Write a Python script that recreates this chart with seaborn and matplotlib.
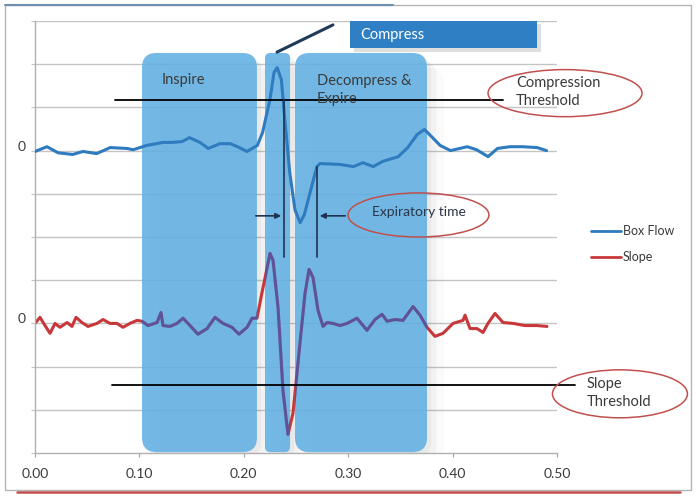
import numpy as np
import pandas as pd
import matplotlib.pyplot as plt
import seaborn as sns
from matplotlib.patches import FancyBboxPatch, Rectangle, Ellipse
from matplotlib.lines import Line2D

# Box flow trace (time in s, value in grid units around its own zero)
flow_t = [0.000, 0.0115, 0.022, 0.036, 0.046, 0.059, 0.072, 0.088, 0.094, 0.107,
          0.123, 0.132, 0.141, 0.148, 0.158, 0.166, 0.177, 0.187, 0.194, 0.203,
          0.213, 0.218, 0.225, 0.229, 0.232, 0.236, 0.239, 0.244, 0.249, 0.254,
          0.258, 0.265, 0.270, 0.273, 0.292, 0.305, 0.314, 0.324, 0.333, 0.348,
          0.357, 0.366, 0.373, 0.380, 0.388, 0.398, 0.414, 0.423, 0.434, 0.443,
          0.455, 0.467, 0.481, 0.490]
flow_v = [-0.02, 0.09, -0.05, -0.09, -0.02, -0.07, 0.07, 0.05, 0.02, 0.12,
          0.19, 0.19, 0.21, 0.30, 0.19, 0.05, 0.16, 0.16, 0.09, -0.02,
          0.12, 0.42, 1.18, 1.81, 1.92, 1.64, 0.79, -0.51, -1.37, -1.67,
          -1.48, -0.83, -0.37, -0.30, -0.32, -0.37, -0.28, -0.37, -0.25, -0.14,
          0.07, 0.37, 0.49, 0.32, 0.12, 0.00, 0.09, 0.02, -0.14, 0.05,
          0.09, 0.09, 0.07, 0.00]

# Slope trace
slope_t = [0.000, 0.0048, 0.0096, 0.0144, 0.0192, 0.0239, 0.0307, 0.0354, 0.0393, 0.0450,
           0.0508, 0.0594, 0.0651, 0.0718, 0.0785, 0.0843, 0.0910, 0.0977, 0.1025, 0.1082,
           0.1169, 0.1207, 0.1226, 0.1293, 0.1360, 0.1418, 0.1485, 0.1561, 0.1648, 0.1724,
           0.1801, 0.1887, 0.1954, 0.2031, 0.2079, 0.2126, 0.2184, 0.2251, 0.2280, 0.2328,
           0.2375, 0.2423, 0.2471, 0.2538, 0.2586, 0.2625, 0.2663, 0.2711, 0.2759, 0.2797,
           0.2854, 0.2921, 0.2989, 0.3084, 0.3180, 0.3257, 0.3324, 0.3372, 0.3448, 0.3525,
           0.3621, 0.3688, 0.3755, 0.3831, 0.3908, 0.4004, 0.4100, 0.4119, 0.4167, 0.4234,
           0.4291, 0.4339, 0.4406, 0.4483, 0.4579, 0.4693, 0.4808, 0.4904]
slope_v = [0.00, 0.14, -0.05, -0.23, 0.00, -0.09, 0.02, -0.07, 0.14, 0.02,
           -0.07, 0.00, 0.09, 0.00, 0.00, -0.09, 0.00, 0.07, 0.05, -0.05,
           0.02, 0.25, -0.05, -0.07, 0.00, 0.12, -0.05, -0.25, -0.12, 0.14,
           0.00, -0.09, -0.25, -0.09, 0.12, 0.12, 0.83, 1.62, 1.46, 0.37,
           -1.55, -2.57, -2.08, -0.46, 0.69, 1.25, 1.06, 0.30, -0.07, 0.02,
           0.00, -0.05, 0.00, 0.12, -0.16, 0.09, 0.21, 0.05, 0.09, 0.07,
           0.39, 0.19, -0.09, -0.30, -0.23, 0.00, 0.07, 0.19, -0.12, -0.12,
           -0.21, 0.00, 0.23, 0.02, 0.00, -0.05, -0.05, -0.07]

flow_zero = 7
slope_zero = 3
x_ticks = [0.0, 0.1, 0.2, 0.3, 0.4, 0.5]
x_ticklabels = ['0.00', '0.10', '0.20', '0.30', '0.40', '0.50']

# phase boxes (start, end) in seconds
phases = [(0.1025, 0.2126), (0.2203, 0.2443), (0.2490, 0.3755)]
phase_round = [0.0140, 0.0050, 0.0140]
compress_thr = 8.17
slope_thr = 1.57
exp_start, exp_end = 0.2385, 0.2701

flow_df = pd.DataFrame({'t': flow_t, 'v': np.array(flow_v) + flow_zero})
slope_df = pd.DataFrame({'t': slope_t, 'v': np.array(slope_v) + slope_zero})

sns.set_style('white')
plt.rcParams['font.family'] = ['Lato', 'DejaVu Sans']

FLOW_C = '#2f7bbf'
SLOPE_C = '#c8383a'
BOX_C = '#62b0e3'
TXT_C = '#3a3a3a'
NAVY = '#1f3350'
LW = 2.2

fig = plt.figure(figsize=(6.97, 4.97), dpi=100)
ax = fig.add_axes([35 / 697, 44 / 497, 522 / 697, 432 / 497])
ax.set_xlim(0, 0.5)
ax.set_ylim(0, 10)

# gridlines
for g in range(1, 11):
    ax.axhline(g, color='#c4c4c4', lw=1, zorder=0.5)

# aspect of one x unit vs one y unit in pixels
asp = (1 / 43.2) / (1 / 1044)

# soft shadows
for k, (a, b) in enumerate(phases):
    for off, al in [(0.004, 0.08), (0.009, 0.06), (0.016, 0.04)]:
        sh = FancyBboxPatch((a + off, 0.02 - off * asp * 0.9), b - a, 9.24,
                            boxstyle=f'round,pad=0,rounding_size={phase_round[k]}',
                            mutation_aspect=asp, fc='#808080', ec='none', alpha=al, zorder=1)
        ax.add_patch(sh)

sns.lineplot(data=slope_df, x='t', y='v', ax=ax, color=SLOPE_C, lw=LW,
             estimator=None, sort=False, legend=False, zorder=2,
             solid_joinstyle='round', solid_capstyle='round')

boxes = []
for k, (a, b) in enumerate(phases):
    p = FancyBboxPatch((a, 0.02), b - a, 9.24,
                       boxstyle=f'round,pad=0,rounding_size={phase_round[k]}',
                       mutation_aspect=asp, fc=BOX_C, ec='none', alpha=0.88, zorder=3)
    ax.add_patch(p)
    boxes.append(p)

# slope seen through the boxes turns purple
for p in boxes:
    sns.lineplot(data=slope_df, x='t', y='v', ax=ax, color='#5f5296', lw=LW,
                 estimator=None, sort=False, legend=False, zorder=3.5,
                 solid_joinstyle='round', solid_capstyle='round')
    ax.lines[-1].set_clip_path(p)

sns.lineplot(data=flow_df, x='t', y='v', ax=ax, color=FLOW_C, lw=LW,
             estimator=None, sort=False, legend=False, zorder=4,
             solid_joinstyle='round', solid_capstyle='round')

# axes styling
ax.set_xlabel('')
ax.set_ylabel('')
ax.set_xticks(x_ticks)
ax.set_xticklabels(x_ticklabels, fontsize=10, color=TXT_C)
ax.set_yticks(list(range(0, 11)))
ax.set_yticklabels(['0' if v in (flow_zero, slope_zero) else '' for v in range(0, 11)],
                   fontsize=10, color=TXT_C, va='baseline')
ax.tick_params(axis='x', length=3, color='#a0a0a0', pad=8, direction='out', bottom=True)
ax.tick_params(axis='y', length=3, color='#c4c4c4', pad=4, direction='out', left=True)
for s in ['top', 'right']:
    ax.spines[s].set_visible(False)
for s in ['left', 'bottom']:
    ax.spines[s].set_color('#b0b0b0')
    ax.spines[s].set_linewidth(1)

# thresholds
ax.plot([0.0766, 0.448], [compress_thr, compress_thr], color='black', lw=1.3, zorder=5)
ax.plot([0.0738, 0.517], [slope_thr, slope_thr], color='black', lw=1.3, zorder=5, clip_on=False)

# expiratory time markers
ax.plot([exp_start, exp_start], [compress_thr, 4.54], color=NAVY, lw=1.2, zorder=5)
ax.plot([exp_end, exp_end], [6.62, 4.54], color=NAVY, lw=1.2, zorder=5)
ax.annotate('', xy=(exp_start, 5.49), xytext=(0.2088, 5.49),
            arrowprops=dict(arrowstyle='-|>', color=NAVY, lw=1.2, mutation_scale=8), zorder=5)
ax.annotate('', xy=(exp_end, 5.49), xytext=(0.2998, 5.49),
            arrowprops=dict(arrowstyle='-|>', color=NAVY, lw=1.2, mutation_scale=8), zorder=5)

# compress label box
ax.add_patch(Rectangle((0.3060, 9.28), 0.1790, 0.66, fc='#808080', ec='none', alpha=0.25,
                       zorder=5, clip_on=False))
ax.add_patch(Rectangle((0.3017, 9.37), 0.1790, 0.63, fc='#2e7fc4', ec='none',
                       zorder=6, clip_on=False))
ax.text(0.3120, 9.68, 'Compress', color='white', fontsize=10.5, va='center', ha='left', zorder=7)
ax.plot([0.2318, 0.2854], [9.28, 9.91], color='#1f3a5a', lw=2.2, zorder=6, clip_on=False,
        solid_capstyle='round')

# phase labels
ax.text(0.1216, 8.63, 'Inspire', color=TXT_C, fontsize=10.5, va='center', ha='left', zorder=6)
ax.text(0.2700, 8.40, 'Decompress &\nExpire', color=TXT_C, fontsize=10.5, va='center',
        ha='left', linespacing=1.35, zorder=6)

# callouts
ax.add_patch(Ellipse((0.5077, 8.33), 0.1475, 1.09, fill=False, ec='#c0504d', lw=1.1,
                     zorder=6, clip_on=False))
ax.text(0.4607, 8.36, 'Compression\nThreshold', color=TXT_C, fontsize=10.5, va='center',
        ha='left', linespacing=1.35, zorder=7, clip_on=False)
ax.add_patch(Ellipse((0.3673, 5.51), 0.1350, 1.02, fill=False, ec='#c0504d', lw=1.1,
                     zorder=6, clip_on=False))
ax.text(0.3228, 5.58, 'Expiratory time', color='#2b3548', fontsize=10, va='center',
        ha='left', zorder=7)
ax.add_patch(Ellipse((0.5603, 1.37), 0.1293, 1.11, fill=False, ec='#c0504d', lw=1.1,
                     zorder=6, clip_on=False))
ax.text(0.5287, 1.38, 'Slope\nThreshold', color=TXT_C, fontsize=10.5, va='center',
        ha='left', linespacing=1.35, zorder=7, clip_on=False)

# legend
handles = [Line2D([], [], color=FLOW_C, lw=2), Line2D([], [], color=SLOPE_C, lw=2)]
fig.legend(handles, ['Box Flow', 'Slope'], loc='upper left',
           bbox_to_anchor=(591 / 697, 1 - 225 / 497), frameon=False, fontsize=9,
           borderpad=0, borderaxespad=0, handlelength=2.4, handletextpad=0.15,
           labelspacing=1.15, labelcolor=TXT_C)

# outer frame
fig.patches.append(Rectangle((5 / 697, 7 / 497), 686 / 697, 485 / 497, transform=fig.transFigure,
                             fill=False, ec='#b4b4b4', lw=1))
fig.lines.append(Line2D([5 / 697, 393 / 697], [492 / 497, 492 / 497], transform=fig.transFigure,
                        color='#6f8fb0', lw=1.5))
fig.lines.append(Line2D([17 / 697, 680 / 697], [5 / 497, 5 / 497], transform=fig.transFigure,
                        color='#c0504d', lw=1.8))

plt.savefig('out.png', dpi=100)
plt.close()
